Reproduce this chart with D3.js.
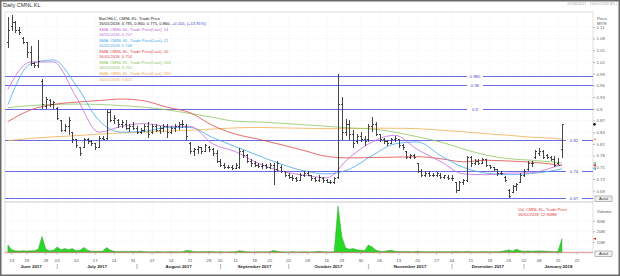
<!DOCTYPE html>
<html>
<head>
<meta charset="utf-8">
<title>Daily CMNL.KL</title>
<script src="https://d3js.org/d3.v7.min.js"></script>
<style>
  body { margin: 0; background: #fff; }
  svg { display: block; font-family: "Liberation Sans", Arial, sans-serif; }
</style>
</head>
<body>
<svg id="chart" width="620" height="276"></svg>
<script>
// trading calendar: weekdays minus market holidays (12 Jun has no session in the feed)
var holidays = ["2017-06-12", "2017-06-26", "2017-06-27", "2017-08-31", "2017-09-01", "2017-09-04",
                "2017-09-22", "2017-10-18", "2017-12-01", "2017-12-25", "2018-01-01"];
var firstDay = "2017-06-09", lastDay = "2018-01-26";

// daily bars, 9 Jun 2017 .. 16 Jan 2018
var open = [1.07,1.11,1.12,1.10,1.08,1.07,1.045,1.015,1.01,0.97,
  0.905,0.92,0.91,0.90,0.87,0.845,0.855,0.84,0.82,0.80,
  0.80,0.82,0.815,0.81,0.80,0.825,0.825,0.89,0.87,0.87,
  0.86,0.86,0.85,0.855,0.85,0.84,0.845,0.855,0.84,0.855,
  0.845,0.85,0.855,0.84,0.85,0.855,0.86,0.855,0.81,0.79,
  0.795,0.80,0.79,0.80,0.795,0.785,0.765,0.755,0.75,0.75,
  0.748,0.75,0.79,0.78,0.765,0.76,0.755,0.752,0.755,0.75,
  0.755,0.745,0.75,0.74,0.73,0.725,0.72,0.715,0.73,0.735,
  0.73,0.72,0.715,0.72,0.715,0.712,0.712,0.725,0.91,0.84,
  0.86,0.835,0.815,0.83,0.82,0.82,0.855,0.86,0.835,0.82,
  0.815,0.81,0.82,0.82,0.805,0.79,0.775,0.78,0.76,0.74,
  0.73,0.735,0.73,0.73,0.73,0.725,0.725,0.72,0.71,0.69,
  0.71,0.715,0.775,0.76,0.765,0.76,0.77,0.755,0.75,0.745,
  0.735,0.725,0.69,0.685,0.70,0.71,0.73,0.745,0.76,0.775,
  0.785,0.79,0.78,0.775,0.77,0.76,0.795];
var high = [1.135,1.14,1.125,1.11,1.085,1.07,1.06,1.02,1.075,0.975,
  0.93,0.925,0.92,0.905,0.872,0.86,0.878,0.84,0.82,0.80,
  0.825,0.825,0.82,0.81,0.83,0.83,0.898,0.90,0.885,0.875,
  0.87,0.87,0.86,0.865,0.855,0.85,0.86,0.865,0.86,0.86,
  0.855,0.86,0.86,0.855,0.86,0.865,0.87,0.86,0.815,0.80,
  0.805,0.80,0.81,0.805,0.80,0.795,0.77,0.76,0.755,0.755,
  0.76,0.80,0.795,0.785,0.77,0.765,0.76,0.76,0.758,0.76,
  0.76,0.765,0.755,0.74,0.735,0.73,0.725,0.735,0.74,0.74,
  0.73,0.725,0.73,0.725,0.72,0.718,0.725,0.99,0.93,0.875,
  0.87,0.845,0.835,0.84,0.83,0.86,0.878,0.865,0.835,0.825,
  0.82,0.825,0.83,0.82,0.81,0.79,0.785,0.785,0.76,0.745,
  0.74,0.74,0.735,0.738,0.735,0.73,0.73,0.73,0.71,0.715,
  0.72,0.78,0.78,0.77,0.772,0.775,0.77,0.755,0.75,0.745,
  0.74,0.728,0.695,0.705,0.71,0.735,0.745,0.765,0.765,0.795,
  0.80,0.795,0.785,0.78,0.78,0.775,0.86];
var low = [1.055,1.10,1.095,1.09,1.065,1.03,1.01,1.005,1.005,0.90,
  0.90,0.905,0.90,0.87,0.84,0.84,0.834,0.813,0.80,0.78,
  0.80,0.81,0.805,0.795,0.80,0.82,0.82,0.865,0.86,0.85,
  0.85,0.845,0.84,0.845,0.835,0.835,0.84,0.825,0.835,0.84,
  0.835,0.84,0.825,0.835,0.84,0.845,0.85,0.82,0.785,0.78,
  0.785,0.785,0.79,0.79,0.78,0.76,0.75,0.745,0.745,0.744,
  0.745,0.745,0.775,0.76,0.75,0.75,0.748,0.745,0.745,0.745,
  0.705,0.74,0.735,0.725,0.72,0.715,0.713,0.715,0.725,0.728,
  0.715,0.712,0.712,0.71,0.71,0.708,0.708,0.72,0.82,0.83,
  0.82,0.80,0.81,0.815,0.805,0.815,0.84,0.83,0.815,0.81,
  0.805,0.81,0.815,0.80,0.795,0.77,0.77,0.77,0.735,0.725,
  0.725,0.725,0.725,0.725,0.72,0.72,0.718,0.715,0.685,0.69,
  0.705,0.712,0.75,0.755,0.755,0.76,0.75,0.745,0.74,0.728,
  0.73,0.713,0.67,0.685,0.69,0.71,0.725,0.74,0.75,0.77,
  0.78,0.77,0.772,0.765,0.75,0.755,0.775];
var close = [1.10,1.12,1.10,1.095,1.07,1.045,1.015,1.01,1.02,0.91,
  0.925,0.91,0.915,0.875,0.845,0.855,0.87,0.82,0.805,0.785,
  0.82,0.815,0.81,0.80,0.825,0.82,0.89,0.87,0.875,0.86,
  0.865,0.85,0.855,0.85,0.84,0.845,0.855,0.835,0.855,0.845,
  0.85,0.855,0.84,0.85,0.855,0.86,0.86,0.83,0.79,0.795,
  0.80,0.79,0.805,0.795,0.785,0.765,0.755,0.75,0.75,0.748,
  0.755,0.79,0.78,0.765,0.76,0.755,0.752,0.755,0.75,0.755,
  0.74,0.76,0.74,0.73,0.725,0.72,0.715,0.73,0.735,0.73,
  0.72,0.715,0.725,0.715,0.712,0.712,0.72,0.91,0.84,0.86,
  0.835,0.81,0.83,0.82,0.815,0.855,0.86,0.835,0.82,0.815,
  0.81,0.82,0.825,0.805,0.80,0.775,0.78,0.775,0.74,0.73,
  0.735,0.73,0.73,0.733,0.725,0.728,0.72,0.722,0.69,0.71,
  0.715,0.775,0.76,0.765,0.76,0.77,0.755,0.75,0.745,0.735,
  0.735,0.715,0.675,0.70,0.705,0.73,0.74,0.76,0.76,0.79,
  0.79,0.775,0.775,0.77,0.755,0.755,0.86];
// volume, millions of shares
var volume = [7,2.5,1.5,1.2,1.5,1.2,1.5,1.5,3,15,
  3,1.5,2,5,2.5,3.5,2.5,3.5,1.5,2,
  4.5,2,1,1,1,1.2,4.5,2,1,0.8,
  0.8,0.8,0.8,0.8,0.8,1,0.6,0.5,0.4,0.6,
  0.5,0.4,0.5,0.6,0.5,0.4,0.5,1.8,1.5,0.6,
  0.5,0.6,0.5,0.8,0.5,0.4,0.5,0.4,0.4,0.5,
  0.6,1.5,1,0.5,0.4,0.4,0.5,0.4,0.4,0.5,
  1.8,1,0.5,0.4,0.4,0.5,0.4,0.4,0.5,0.4,
  0.4,0.5,0.9,0.5,0.4,0.4,0.6,44,15,4,
  3,3.5,2.5,2,1.5,7,5,2,1,0.8,
  1.5,2,1,0.8,0.6,0.8,0.6,0.5,0.9,0.6,
  0.5,0.5,0.6,0.5,0.5,0.6,0.5,0.5,0.8,0.6,
  0.5,0.8,0.6,0.5,0.5,0.6,0.6,0.5,0.5,0.6,
  0.8,1.5,2.3,1.2,3,1.5,1,1.2,1.1,1.2,
  1.3,1.2,1,0.8,0.5,1,12.908];

// moving averages read at these bar positions
var smaAt  = [0,6,12,18,24,30,36,42,48,54,60,66,72,78,84,90,96,102,108,114,120,126,132,138,144,146];
var sma14  = [0.950,1.020,1.020,0.930,0.840,0.855,0.862,0.855,0.855,0.810,0.790,0.760,0.740,0.730,0.723,0.775,0.815,0.832,0.795,0.765,0.733,0.731,0.735,0.736,0.751,0.757];
var sma21  = [0.910,1.015,1.025,0.960,0.870,0.840,0.842,0.852,0.852,0.826,0.803,0.780,0.758,0.741,0.733,0.745,0.780,0.810,0.815,0.780,0.750,0.735,0.731,0.734,0.742,0.746];
var sma50  = [0.867,0.897,0.911,0.917,0.921,0.925,0.920,0.904,0.890,0.857,0.835,0.822,0.808,0.793,0.778,0.774,0.775,0.776,0.777,0.772,0.764,0.768,0.766,0.763,0.757,0.754];
var sma100 = [0.903,0.908,0.911,0.912,0.911,0.908,0.904,0.897,0.888,0.878,0.868,0.866,0.863,0.859,0.855,0.851,0.848,0.840,0.828,0.815,0.797,0.781,0.772,0.768,0.763,0.761];
var sma200 = [0.818,0.824,0.828,0.831,0.835,0.838,0.840,0.843,0.845,0.848,0.851,0.852,0.851,0.850,0.849,0.849,0.850,0.850,0.849,0.845,0.841,0.836,0.832,0.827,0.824,0.822];
var smaNames   = ["14", "21", "50", "100", "200"];
var smaColors  = ["#c36ad6", "#45a8e6", "#e04848", "#8cc65e", "#f2ad4e"];

var levels = [0.985, 0.96, 0.9, 0.82, 0.74, 0.67];
var priceTicks = [0.69,0.72,0.75,0.78,0.81,0.84,0.87,0.9,0.93,0.96,0.99,1.02,1.05,1.08,1.11];
var volTicks = [10, 20, 30];

// ---------- calendar
var parse = d3.timeParse("%Y-%m-%d"), fmt = d3.timeFormat("%Y-%m-%d");
var days = d3.timeDay.range(parse(firstDay), d3.timeDay.offset(parse(lastDay), 1))
  .filter(function(d) { return d.getDay() > 0 && d.getDay() < 6 && holidays.indexOf(fmt(d)) < 0; });

var svg = d3.select("#chart");
var left = 5, right = 593;
var pTop = 12, pBot = 202, vTop = 202, vBot = 253;

var x = d3.scaleLinear().domain([-0.76, 154.2]).range([left, right]);
var y = d3.scaleLinear().domain([0.661, 1.148]).range([pBot, pTop]);
var vy = d3.scaleLinear().domain([0, 47.6]).range([252.3, vTop + 0.3]);
function crisp(v) { return Math.round(v) + 0.5; }

svg.append("defs").append("clipPath").attr("id", "pclip")
  .append("rect").attr("x", left).attr("y", pTop).attr("width", right - left).attr("height", pBot - pTop);

// week and month markers
var weekIdx = [], monthIdx = [];
days.forEach(function(d, i) {
  if (i === 0) return;
  if (d3.timeMonday.floor(d) - d3.timeMonday.floor(days[i - 1]) !== 0) weekIdx.push(i);
  if (d.getMonth() !== days[i - 1].getMonth()) monthIdx.push(i);
});
weekIdx = weekIdx.filter(function(i) { return x(i) < right; });

// outer frame
svg.append("rect").attr("x", 0.75).attr("y", 0.75).attr("width", 618.5).attr("height", 274.5)
  .attr("fill", "#fff").attr("stroke", "#6a6a6a").attr("stroke-width", 1.5);

// grid
var grid = svg.append("g").attr("stroke", "#ececec").attr("stroke-width", 0.6).attr("stroke-dasharray", "1,1");
grid.selectAll(".vg").data(weekIdx).enter().append("line")
  .attr("x1", function(i) { return x(i); }).attr("x2", function(i) { return x(i); })
  .attr("y1", pTop).attr("y2", vBot);
grid.selectAll(".hg").data(priceTicks).enter().append("line")
  .attr("x1", left).attr("x2", right)
  .attr("y1", function(v) { return y(v); }).attr("y2", function(v) { return y(v); });
grid.selectAll(".hv").data(volTicks).enter().append("line")
  .attr("x1", left).attr("x2", right)
  .attr("y1", function(v) { return vy(v); }).attr("y2", function(v) { return vy(v); });

// panel borders
svg.append("rect").attr("x", left).attr("y", pTop).attr("width", right - left).attr("height", pBot - pTop)
  .attr("fill", "none").attr("stroke", "#c8c8c8").attr("stroke-width", 0.6);
svg.append("rect").attr("x", left).attr("y", vTop).attr("width", right - left).attr("height", vBot - vTop)
  .attr("fill", "none").attr("stroke", "#c8c8c8").attr("stroke-width", 0.6);

// horizontal level lines
var lv = svg.append("g");
levels.forEach(function(v) {
  var ly = crisp(y(v));
  lv.append("line").attr("x1", left).attr("x2", right).attr("y1", ly).attr("y2", ly)
    .attr("stroke", "#6c6ae6").attr("stroke-width", 1).attr("shape-rendering", "crispEdges");
  var lx = v > 0.85 ? 475 : 574;
  lv.append("rect").attr("x", lx - 8).attr("y", ly - 2.5).attr("width", 16).attr("height", 5).attr("fill", "#fff");
  lv.append("text").attr("x", lx).attr("y", ly + 1.5).attr("text-anchor", "middle")
    .attr("font-size", 4.3).attr("fill", "#4646c8").text(String(v));
});

// moving averages
var smaSets = [sma14, sma21, sma50, sma100, sma200];
var smaLine = d3.line().x(function(d, k) { return x(smaAt[k]); }).y(function(d) { return y(d); })
  .curve(d3.curveMonotoneX);
var pg = svg.append("g").attr("clip-path", "url(#pclip)");
smaSets.slice().reverse().forEach(function(s, k) {
  pg.append("path").attr("d", smaLine(s)).attr("fill", "none")
    .attr("stroke", smaColors[4 - k]).attr("stroke-width", 0.8);
});

// OHLC bars
var bars = pg.append("g").attr("stroke", "#333").attr("stroke-width", 0.9).attr("shape-rendering", "crispEdges");
close.forEach(function(c, i) {
  var bx = crisp(x(i));
  bars.append("line").attr("x1", bx).attr("x2", bx).attr("y1", y(high[i])).attr("y2", y(low[i]));
  bars.append("line").attr("x1", bx - 1.6).attr("x2", bx).attr("y1", y(open[i])).attr("y2", y(open[i]));
  bars.append("line").attr("x1", bx).attr("x2", bx + 1.6).attr("y1", y(c)).attr("y2", y(c));
});

// volume
svg.append("path").datum(volume)
  .attr("d", d3.area().x(function(d, i) { return x(i); }).y0(vy(0)).y1(function(d) { return vy(d); }))
  .attr("fill", "#26d926").attr("stroke", "#3b9a2e").attr("stroke-width", 0.5);
svg.append("line").attr("x1", left).attr("x2", right).attr("y1", vy(0)).attr("y2", vy(0))
  .attr("stroke", "#e06a6a").attr("stroke-width", 0.7);

// right axes
var pAxis = svg.append("g").attr("transform", "translate(" + right + ",0)")
  .call(d3.axisRight(y).tickValues(priceTicks).tickSize(2).tickPadding(1.5)
    .tickFormat(function(v) { return String(+v.toFixed(2)); }));
var vAxis = svg.append("g").attr("transform", "translate(" + right + ",0)")
  .call(d3.axisRight(vy).tickValues(volTicks).tickSize(2).tickPadding(1.5)
    .tickFormat(function(v) { return v + "M"; }));
[pAxis, vAxis].forEach(function(a) {
  a.select(".domain").remove();
  a.selectAll("line").attr("stroke", "#888").attr("stroke-width", 0.6);
  a.selectAll("text").attr("font-size", 4.3).attr("fill", "#666").attr("font-family", null);
});
svg.append("text").attr("x", 597).attr("y", 20).attr("font-size", 4.3).attr("fill", "#555").text("Price");
svg.append("text").attr("x", 597).attr("y", 25).attr("font-size", 4.3).attr("fill", "#555").text("MYR");
svg.append("text").attr("x", 597).attr("y", 212.5).attr("font-size", 4.3).attr("fill", "#555").text("Volume");

// last-value markers on the price axis
var n = close.length - 1;
svg.append("circle").attr("cx", right + 1.5).attr("cy", y(close[n])).attr("r", 1.3).attr("fill", "#111");
smaSets.forEach(function(s, k) {
  var yy = y(s[s.length - 1]);
  svg.append("path").attr("d", "M" + (right + 3) + "," + (yy - 1.3) + "L" + (right) + "," + yy + "L" + (right + 3) + "," + (yy + 1.3) + "Z")
    .attr("fill", smaColors[k]);
});
svg.append("path").attr("d", "M" + (right + 3) + "," + (vy(volume[n]) - 1.3) + "L" + right + "," + vy(volume[n]) + "L" + (right + 3) + "," + (vy(volume[n]) + 1.3) + "Z")
  .attr("fill", "#e03030");

// small buttons at panel corners
[pBot - 6, vBot - 2].forEach(function(by) {
  svg.append("rect").attr("x", 595).attr("y", by).attr("width", 17).attr("height", 5.5)
    .attr("fill", "#f2f2f2").attr("stroke", "#777").attr("stroke-width", 0.5);
  svg.append("text").attr("x", 603.5).attr("y", by + 4.3).attr("text-anchor", "middle")
    .attr("font-size", 4).attr("fill", "#333").text("Autal");
});

// x axis labels
var xa = svg.append("g").attr("fill", "#555");
weekIdx.forEach(function(i) {
  xa.append("line").attr("x1", x(i)).attr("x2", x(i)).attr("y1", vBot).attr("y2", vBot + 2)
    .attr("stroke", "#999").attr("stroke-width", 0.5);
  xa.append("text").attr("x", x(i)).attr("y", 262).attr("text-anchor", "middle").attr("font-size", 4.3)
    .text(d3.timeFormat("%d")(days[i]));
});
var bounds = [left].concat(monthIdx.map(function(i) { return x(i); })).concat([right]);
var monthStart = [0].concat(monthIdx);
monthStart.forEach(function(i, k) {
  xa.append("text").attr("x", (bounds[k] + bounds[k + 1]) / 2).attr("y", 267.5).attr("text-anchor", "middle")
    .attr("font-size", 4.4).attr("font-weight", "bold").attr("fill", "#222")
    .text(d3.timeFormat("%B %Y")(days[i]));
});
monthIdx.forEach(function(i) {
  xa.append("text").attr("x", x(i)).attr("y", 268).attr("text-anchor", "middle").attr("font-size", 5)
    .attr("fill", "#444").text("|");
});

// title and header
svg.append("text").attr("x", 3).attr("y", 7).attr("font-size", 5.5).attr("fill", "#333").text("Daily CMNL.KL");
svg.append("text").attr("x", 617).attr("y", 5).attr("text-anchor", "end").attr("font-size", 3.8).attr("fill", "#aaa")
  .text("07/06/2017 - " + d3.timeFormat("%d/%m/%Y")(days[n]) + " (KL)");

// legend
var f3 = d3.format(".3f"), lastDate = d3.timeFormat("%d/%m/%Y")(days[n]);
var chg = close[n] - close[n - 1];
var lg = svg.append("g").attr("font-size", 4.1);
var ly = 19.5, step = 5.55;
lg.append("text").attr("x", 99).attr("y", ly).attr("fill", "#222").text("BarOHLC, CMNL.KL, Trade Price");
var t2 = lg.append("text").attr("x", 99).attr("y", ly + step).attr("fill", "#222")
  .text(lastDate + ", " + [open[n], high[n], low[n], close[n]].map(f3).join(", ") + ", ");
t2.append("tspan").attr("fill", "#3a3ad0")
  .text("+" + f3(chg) + ", (+" + (chg / close[n - 1] * 100).toFixed(2) + "%)");
smaSets.forEach(function(s, k) {
  lg.append("text").attr("x", 99).attr("y", ly + step * (2 + 2 * k)).attr("fill", smaColors[k])
    .text("SMA, CMNL.KL, Trade Price(Last), " + smaNames[k]);
  lg.append("text").attr("x", 99).attr("y", ly + step * (3 + 2 * k)).attr("fill", smaColors[k])
    .text(lastDate + ", " + f3(s[s.length - 1]));
});
var vl = svg.append("g").attr("font-size", 4.1).attr("fill", "#e03a3a");
vl.append("text").attr("x", 518).attr("y", 210.5).text("Vol, CMNL.KL, Trade Price");
vl.append("text").attr("x", 518).attr("y", 216).text(lastDate + ", " + f3(volume[n]) + "M");
</script>
</body>
</html>
